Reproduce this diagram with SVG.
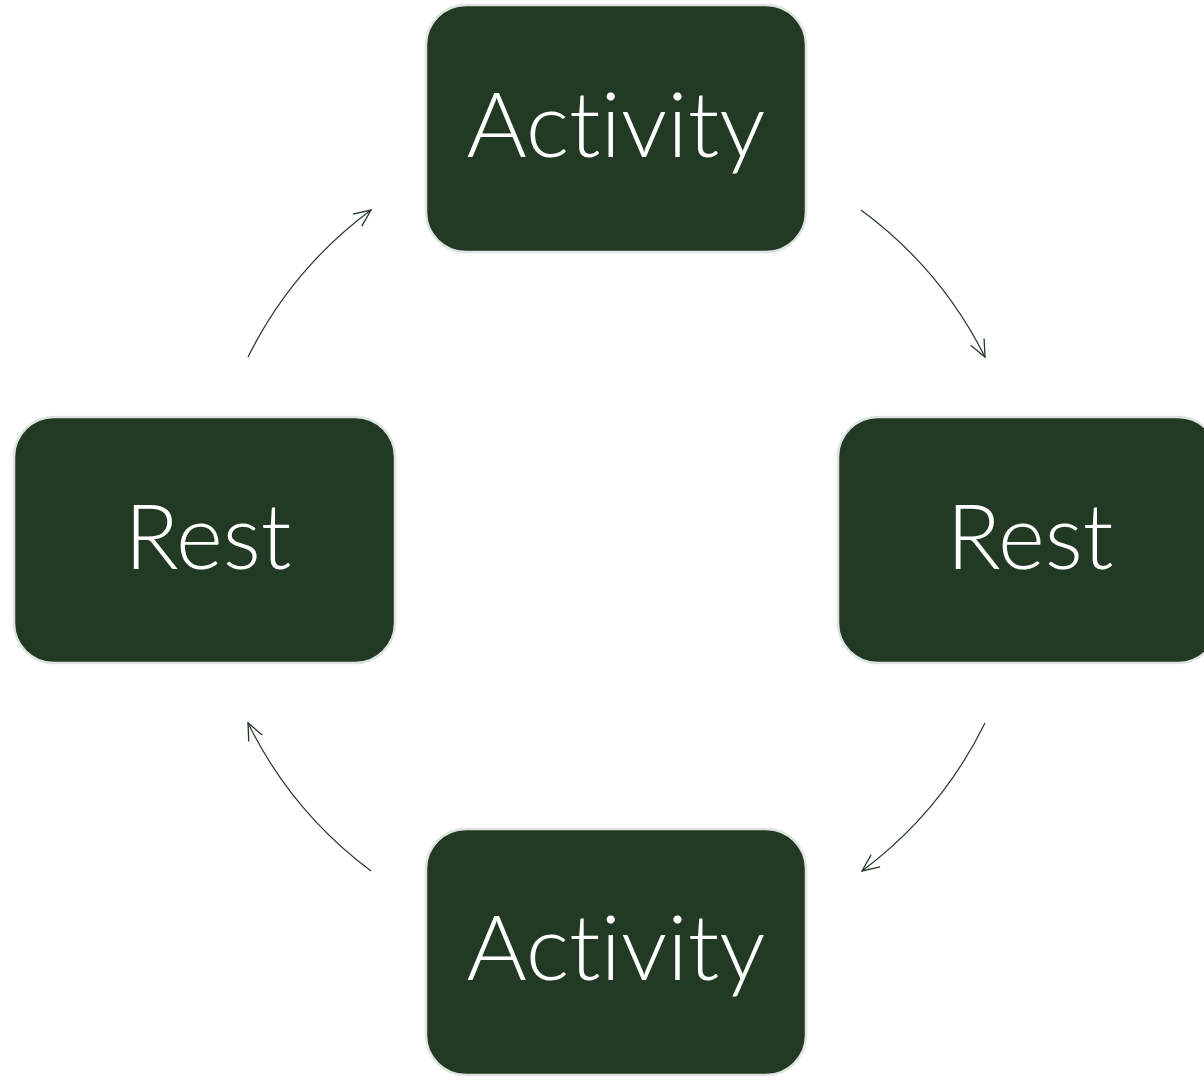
<svg xmlns="http://www.w3.org/2000/svg" width="1204" height="1081" viewBox="0 0 1204 1081">
<style>
.box{fill:#223a24;stroke:#dfe4e2;stroke-width:2.5}
.lbl{fill:#ffffff;font-family:Lato,"Open Sans",sans-serif;font-weight:300;font-size:90px;text-anchor:middle;font-variant-ligatures:none;font-feature-settings:"liga" 0}
.edge{fill:none;stroke:#223a24;stroke-width:1.2}
</style>
<defs>
<marker id="arr" markerUnits="userSpaceOnUse" markerWidth="24" markerHeight="24" viewBox="0 0 24 24" refX="18" refY="12" orient="auto">
<path d="M1,4.5 L18,12 L1,19.5" fill="none" stroke="#223a24" stroke-width="1.3"/>
</marker>
</defs>
<g id="connectors">
<path class="edge" d="M861,210 A411,411 0 0 1 985,357" marker-end="url(#arr)"/>
<path class="edge" d="M985,723 A411,411 0 0 1 862,871" marker-end="url(#arr)"/>
<path class="edge" d="M371,871 A411,411 0 0 1 248,723" marker-end="url(#arr)"/>
<path class="edge" d="M248,357 A411,411 0 0 1 371,210" marker-end="url(#arr)"/>
</g>
<g id="node-activity-top">
<rect class="box" x="426" y="5" width="380" height="247" rx="40"/>
<text class="lbl" x="616" y="157" textLength="299" lengthAdjust="spacingAndGlyphs">Activity</text>
</g>
<g id="node-rest-right">
<rect class="box" x="838" y="417" width="380" height="246" rx="40"/>
<text class="lbl" x="1030" y="569" textLength="167" lengthAdjust="spacingAndGlyphs">Rest</text>
</g>
<g id="node-activity-bottom">
<rect class="box" x="426" y="829" width="380" height="246" rx="40"/>
<text class="lbl" x="616" y="980" textLength="299" lengthAdjust="spacingAndGlyphs">Activity</text>
</g>
<g id="node-rest-left">
<rect class="box" x="14" y="417" width="381" height="246" rx="40"/>
<text class="lbl" x="208" y="569" textLength="167" lengthAdjust="spacingAndGlyphs">Rest</text>
</g>
</svg>
